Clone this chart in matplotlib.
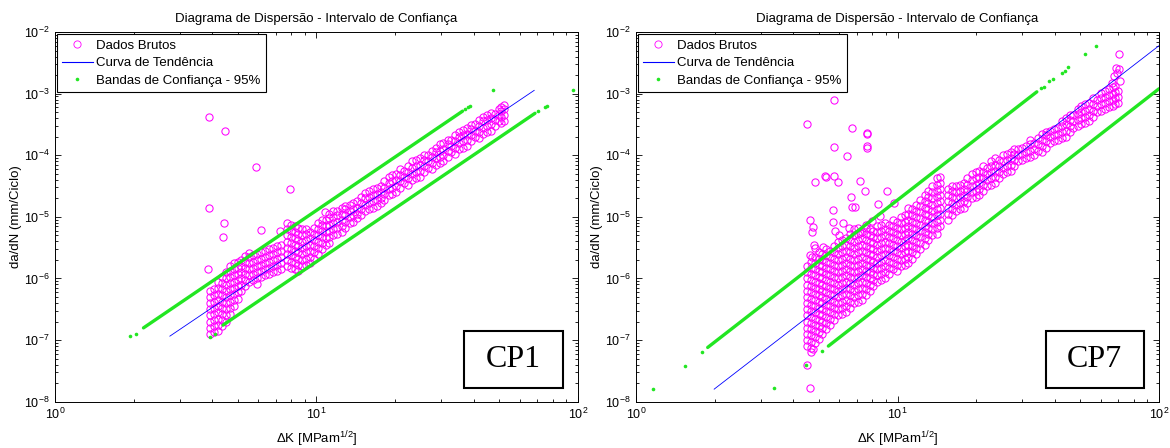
import numpy as np
import matplotlib
matplotlib.use("Agg")
import matplotlib.pyplot as plt
from matplotlib.lines import Line2D
from matplotlib.patches import Rectangle

plt.rcParams["font.family"] = ["Liberation Sans", "DejaVu Sans"]
plt.rcParams["mathtext.fontset"] = "custom"
plt.rcParams["mathtext.rm"] = "Liberation Sans"
plt.rcParams["mathtext.it"] = "Liberation Sans:italic"

MAGENTA = "#ff00ff"
BLUE = "#0000ff"
GREEN = "#22e622"

TITLE = "Diagrama de Dispersão - Intervalo de Confiança"
LABELS = ["Dados Brutos", "Curva de Tendência", "Bandas de Confiança - 95%"]

# ---------------- CP1 ----------------
# raw data read column by column: one dK per column, then the da/dN values in it
cp1_seg1_dk = [3.92, 4.20, 4.50, 4.82, 5.16, 5.53, 5.93, 6.35, 6.81, 7.29]
cp1_seg1_dadn = [
    [1.26e-7, 1.58e-7, 2.0e-7, 2.51e-7, 3.16e-7, 3.98e-7, 5.01e-7, 6.31e-7],
    [1.41e-7, 1.78e-7, 2.24e-7, 2.82e-7, 3.55e-7, 4.47e-7, 5.62e-7, 7.08e-7, 8.91e-7],
    [2.0e-7, 2.51e-7, 3.16e-7, 3.98e-7, 5.01e-7, 6.31e-7, 7.94e-7, 1.0e-6, 1.26e-6],
    [3.55e-7, 4.47e-7, 5.62e-7, 7.08e-7, 8.91e-7, 1.12e-6, 1.41e-6, 1.78e-6],
    [6.31e-7, 7.94e-7, 1.0e-6, 1.26e-6, 1.58e-6, 2.0e-6],
    [8.91e-7, 1.12e-6, 1.41e-6, 1.78e-6, 2.24e-6, 2.6e-6],
    [1.0e-6, 1.26e-6, 1.58e-6, 2.0e-6, 2.51e-6],
    [1.12e-6, 1.41e-6, 1.78e-6, 2.24e-6, 2.82e-6],
    [1.26e-6, 1.58e-6, 2.0e-6, 2.51e-6, 3.16e-6],
    [1.41e-6, 1.78e-6, 2.24e-6, 2.82e-6, 3.55e-6],
]
cp1_seg1b_dk = [4.06, 4.35, 4.66, 4.99, 5.34, 5.73, 6.14, 6.58, 7.05]
cp1_seg1b_dadn = [
    [1.33e-7, 1.68e-7, 2.11e-7, 2.66e-7, 3.35e-7, 4.22e-7, 5.31e-7, 6.68e-7],
    [1.68e-7, 2.11e-7, 2.66e-7, 3.35e-7, 4.22e-7, 5.31e-7, 6.68e-7, 8.41e-7, 1.06e-6],
    [2.66e-7, 3.35e-7, 4.22e-7, 5.31e-7, 6.68e-7, 8.41e-7, 1.06e-6, 1.33e-6, 1.58e-6],
    [4.73e-7, 5.96e-7, 7.50e-7, 9.44e-7, 1.19e-6, 1.50e-6, 1.88e-6],
    [7.5e-7, 9.44e-7, 1.19e-6, 1.50e-6, 1.88e-6, 2.3e-6],
    [9.44e-7, 1.19e-6, 1.50e-6, 1.88e-6, 2.37e-6],
    [1.06e-6, 1.33e-6, 1.68e-6, 2.11e-6, 2.66e-6],
    [1.19e-6, 1.50e-6, 1.88e-6, 2.37e-6, 2.99e-6],
    [1.33e-6, 1.68e-6, 2.11e-6, 2.66e-6, 3.35e-6],
]
cp1_seg2_dk = [7.69, 8.24, 8.83, 9.46, 10.1, 10.9, 11.6, 12.5, 13.4, 14.3,
               15.3, 16.4, 17.6, 18.9, 20.2, 21.7, 23.2, 24.9, 26.7, 28.6,
               30.6, 32.8, 35.2, 37.7, 40.4, 43.3, 46.4, 49.7, 52.0]
cp1_seg2_dadn = [
    [1.58e-6, 2.0e-6, 2.51e-6, 3.16e-6, 3.98e-6, 5.01e-6, 6.31e-6, 7.94e-6],
    [1.41e-6, 1.78e-6, 2.24e-6, 2.82e-6, 3.55e-6, 4.47e-6, 5.62e-6, 7.08e-6],
    [1.58e-6, 2.0e-6, 2.51e-6, 3.16e-6, 3.98e-6, 5.01e-6, 6.31e-6],
    [1.78e-6, 2.24e-6, 2.82e-6, 3.55e-6, 4.47e-6, 5.62e-6],
    [2.51e-6, 3.16e-6, 3.98e-6, 5.01e-6, 6.31e-6, 7.94e-6],
    [3.55e-6, 4.47e-6, 5.62e-6, 7.08e-6, 8.91e-6],
    [5.01e-6, 6.31e-6, 7.94e-6, 1.0e-5, 1.26e-5],
    [5.62e-6, 7.08e-6, 8.91e-6, 1.12e-5, 1.41e-5],
    [7.94e-6, 1.0e-5, 1.26e-5, 1.58e-5],
    [9.5e-6, 1.12e-5, 1.41e-5, 1.78e-5],
    [1.26e-5, 1.58e-5, 2.0e-5, 2.4e-5],
    [1.41e-5, 1.78e-5, 2.24e-5, 2.82e-5],
    [1.66e-5, 2.0e-5, 2.51e-5, 3.16e-5],
    [2.24e-5, 2.82e-5, 3.55e-5, 4.47e-5],
    [2.51e-5, 3.16e-5, 3.98e-5, 5.01e-5],
    [3.55e-5, 4.47e-5, 5.62e-5],
    [3.98e-5, 5.01e-5, 6.31e-5, 7.94e-5],
    [4.47e-5, 5.62e-5, 7.08e-5, 8.91e-5],
    [6.31e-5, 7.94e-5, 1.0e-4],
    [7.08e-5, 8.91e-5, 1.12e-4, 1.32e-4],
    [7.94e-5, 1.0e-4, 1.26e-4, 1.58e-4],
    [1.12e-4, 1.41e-4, 1.78e-4],
    [1.26e-4, 1.58e-4, 2.0e-4, 2.4e-4],
    [1.41e-4, 1.78e-4, 2.24e-4, 2.82e-4],
    [2.0e-4, 2.51e-4, 3.16e-4],
    [2.24e-4, 2.82e-4, 3.55e-4, 4.17e-4],
    [2.51e-4, 3.16e-4, 3.98e-4, 4.8e-4],
    [3.55e-4, 4.47e-4, 5.62e-4],
    [3.55e-4, 4.47e-4, 5.62e-4, 6.5e-4],
]
cp1_seg2b_dk = [7.96, 8.53, 9.14, 9.79, 10.5, 11.2, 12.0, 12.9, 13.8, 14.8,
                15.9, 17.0, 18.2, 19.5, 20.9, 22.4, 24.0, 25.7, 27.6, 29.6,
                31.7, 34.0, 36.4, 39.0, 41.8, 44.8, 48.0, 50.8]
cp1_seg2b_dadn = [
    [1.50e-6, 1.88e-6, 2.37e-6, 2.99e-6, 3.76e-6, 4.73e-6, 5.96e-6, 7.50e-6],
    [1.33e-6, 1.68e-6, 2.11e-6, 2.66e-6, 3.35e-6, 4.22e-6, 5.31e-6, 6.68e-6],
    [1.68e-6, 2.11e-6, 2.66e-6, 3.35e-6, 4.22e-6, 5.31e-6, 6.31e-6],
    [2.11e-6, 2.66e-6, 3.35e-6, 4.22e-6, 5.31e-6, 6.68e-6],
    [2.99e-6, 3.76e-6, 4.73e-6, 5.96e-6, 7.50e-6, 8.9e-6],
    [3.76e-6, 4.73e-6, 5.96e-6, 7.5e-6, 9.44e-6, 1.12e-5],
    [5.31e-6, 6.68e-6, 8.41e-6, 1.06e-5, 1.26e-5],
    [6.68e-6, 8.41e-6, 1.06e-5, 1.33e-5, 1.5e-5],
    [8.41e-6, 1.06e-5, 1.33e-5, 1.68e-5],
    [1.06e-5, 1.33e-5, 1.68e-5, 2.11e-5],
    [1.33e-5, 1.68e-5, 2.11e-5, 2.66e-5],
    [1.50e-5, 1.88e-5, 2.37e-5, 2.99e-5],
    [1.88e-5, 2.37e-5, 2.99e-5, 3.76e-5],
    [2.37e-5, 2.99e-5, 3.76e-5, 4.73e-5],
    [2.99e-5, 3.76e-5, 4.73e-5, 5.96e-5],
    [3.35e-5, 4.22e-5, 5.31e-5, 6.68e-5],
    [4.22e-5, 5.31e-5, 6.68e-5, 8.41e-5],
    [5.31e-5, 6.68e-5, 8.41e-5, 1.02e-4],
    [5.96e-5, 7.5e-5, 9.44e-5, 1.19e-4],
    [7.5e-5, 9.44e-5, 1.19e-4, 1.5e-4],
    [9.44e-5, 1.19e-4, 1.5e-4, 1.78e-4],
    [1.06e-4, 1.33e-4, 1.68e-4, 2.11e-4],
    [1.33e-4, 1.68e-4, 2.11e-4, 2.6e-4],
    [1.68e-4, 2.11e-4, 2.66e-4, 3.1e-4],
    [1.88e-4, 2.37e-4, 2.99e-4, 3.76e-4],
    [2.37e-4, 2.99e-4, 3.76e-4, 4.47e-4],
    [2.99e-4, 3.76e-4, 4.73e-4],
    [3.35e-4, 4.22e-4, 5.31e-4, 6.0e-4],
]
cp1_out_dk = [3.88, 4.46, 5.87, 7.95, 3.88, 4.43, 4.40, 6.14, 7.26, 10.8, 3.86, 5.9]
cp1_out_dadn = [4.2e-4, 2.5e-4, 6.5e-5, 2.85e-5, 1.38e-5, 7.9e-6, 4.8e-6, 6.2e-6,
                6.0e-6, 1.2e-5, 1.4e-6, 8.0e-7]

cp1_trend_dk = [2.75, 68.0]
cp1_trend_dadn = [1.16e-7, 1.13e-3]

cp1_up_dk = [2.18, 36.2]            # continuous run of band points
cp1_up_dadn = [1.58e-7, 5.2e-4]
cp1_lo_dk = [4.39, 68.5]
cp1_lo_dadn = [1.75e-7, 4.8e-4]
cp1_dots_dk = [1.94, 2.04, 36.9, 38.0, 38.5, 47.4, 95.7,
               3.90, 4.08, 70.5, 74.9, 76.0]
cp1_dots_dadn = [1.16e-7, 1.28e-7, 5.6e-4, 6.1e-4, 6.3e-4, 1.15e-3, 1.13e-3,
                 1.13e-7, 1.28e-7, 5.3e-4, 6.1e-4, 6.3e-4]

# ---------------- CP7 ----------------
cp7_blob_dk = [4.50, 4.82, 5.16, 5.53, 5.93, 6.35, 6.81, 7.29, 7.82, 8.37,
               8.97, 9.62, 10.3, 11.0, 11.8, 12.7, 13.6, 14.6]
cp7_blob_dadn = [
    [7.94e-8, 1.0e-7, 1.26e-7, 1.58e-7, 2.0e-7, 2.51e-7, 3.16e-7, 3.98e-7, 5.01e-7,
     6.31e-7, 7.94e-7, 1.0e-6, 1.26e-6, 1.58e-6],
    [8.91e-8, 1.12e-7, 1.41e-7, 1.78e-7, 2.24e-7, 2.82e-7, 3.55e-7, 4.47e-7, 5.62e-7,
     7.08e-7, 8.91e-7, 1.12e-6, 1.41e-6, 1.78e-6, 2.24e-6],
    [1.26e-7, 1.58e-7, 2.0e-7, 2.51e-7, 3.16e-7, 3.98e-7, 5.01e-7, 6.31e-7, 7.94e-7,
     1.0e-6, 1.26e-6, 1.58e-6, 2.0e-6, 2.51e-6],
    [1.78e-7, 2.24e-7, 2.82e-7, 3.55e-7, 4.47e-7, 5.62e-7, 7.08e-7, 8.91e-7, 1.12e-6,
     1.41e-6, 1.78e-6, 2.24e-6, 2.82e-6],
    [2.51e-7, 3.16e-7, 3.98e-7, 5.01e-7, 6.31e-7, 7.94e-7, 1.0e-6, 1.26e-6, 1.58e-6,
     2.0e-6, 2.51e-6, 3.16e-6, 3.98e-6],
    [2.82e-7, 3.55e-7, 4.47e-7, 5.62e-7, 7.08e-7, 8.91e-7, 1.12e-6, 1.41e-6, 1.78e-6,
     2.24e-6, 2.82e-6, 3.55e-6, 4.47e-6],
    [3.98e-7, 5.01e-7, 6.31e-7, 7.94e-7, 1.0e-6, 1.26e-6, 1.58e-6, 2.0e-6, 2.51e-6,
     3.16e-6, 3.98e-6, 5.01e-6, 6.31e-6],
    [4.47e-7, 5.62e-7, 7.08e-7, 8.91e-7, 1.12e-6, 1.41e-6, 1.78e-6, 2.24e-6, 2.82e-6,
     3.55e-6, 4.47e-6, 5.62e-6],
    [6.31e-7, 7.94e-7, 1.0e-6, 1.26e-6, 1.58e-6, 2.0e-6, 2.51e-6, 3.16e-6, 3.98e-6,
     5.01e-6, 6.31e-6],
    [8.91e-7, 1.12e-6, 1.41e-6, 1.78e-6, 2.24e-6, 2.82e-6, 3.55e-6, 4.47e-6, 5.62e-6,
     7.08e-6],
    [1.0e-6, 1.26e-6, 1.58e-6, 2.0e-6, 2.51e-6, 3.16e-6, 3.98e-6, 5.01e-6, 6.31e-6,
     7.94e-6],
    [1.41e-6, 1.78e-6, 2.24e-6, 2.82e-6, 3.55e-6, 4.47e-6, 5.62e-6, 7.08e-6, 8.91e-6],
    [1.58e-6, 2.0e-6, 2.51e-6, 3.16e-6, 3.98e-6, 5.01e-6, 6.31e-6, 7.94e-6, 1.0e-5],
    [1.78e-6, 2.24e-6, 2.82e-6, 3.55e-6, 4.47e-6, 5.62e-6, 7.08e-6, 8.91e-6, 1.12e-5,
     1.41e-5],
    [2.51e-6, 3.16e-6, 3.98e-6, 5.01e-6, 6.31e-6, 7.94e-6, 1.0e-5, 1.26e-5, 1.58e-5],
    [3.55e-6, 4.47e-6, 5.62e-6, 7.08e-6, 8.91e-6, 1.12e-5, 1.41e-5, 1.78e-5, 2.24e-5],
    [5.01e-6, 6.31e-6, 7.94e-6, 1.0e-5, 1.26e-5, 1.58e-5, 2.0e-5, 2.51e-5, 3.16e-5],
    [7.08e-6, 8.91e-6, 1.12e-5, 1.41e-5, 1.78e-5, 2.24e-5, 2.82e-5, 3.55e-5, 4.47e-5],
]
cp7_blobb_dk = [4.66, 4.99, 5.34, 5.73, 6.14, 6.58, 7.05, 7.55, 8.09, 8.67,
                9.29, 9.95, 10.7, 11.4, 12.2, 13.1, 14.1]
cp7_blobb_dadn = [
    [7.5e-8, 9.44e-8, 1.19e-7, 1.5e-7, 1.88e-7, 2.37e-7, 2.99e-7, 3.76e-7, 4.73e-7,
     5.96e-7, 7.5e-7, 9.44e-7, 1.19e-6, 1.5e-6, 1.88e-6],
    [1.06e-7, 1.33e-7, 1.68e-7, 2.11e-7, 2.66e-7, 3.35e-7, 4.22e-7, 5.31e-7, 6.68e-7,
     8.41e-7, 1.06e-6, 1.33e-6, 1.68e-6, 2.11e-6, 2.66e-6],
    [1.5e-7, 1.88e-7, 2.37e-7, 2.99e-7, 3.76e-7, 4.73e-7, 5.96e-7, 7.5e-7, 9.44e-7,
     1.19e-6, 1.5e-6, 1.88e-6, 2.37e-6, 2.99e-6],
    [2.11e-7, 2.66e-7, 3.35e-7, 4.22e-7, 5.31e-7, 6.68e-7, 8.41e-7, 1.06e-6, 1.33e-6,
     1.68e-6, 2.11e-6, 2.66e-6, 3.35e-6],
    [2.66e-7, 3.35e-7, 4.22e-7, 5.31e-7, 6.68e-7, 8.41e-7, 1.06e-6, 1.33e-6, 1.68e-6,
     2.11e-6, 2.66e-6, 3.35e-6, 4.22e-6],
    [3.35e-7, 4.22e-7, 5.31e-7, 6.68e-7, 8.41e-7, 1.06e-6, 1.33e-6, 1.68e-6, 2.11e-6,
     2.66e-6, 3.35e-6, 4.22e-6, 5.31e-6],
    [4.22e-7, 5.31e-7, 6.68e-7, 8.41e-7, 1.06e-6, 1.33e-6, 1.68e-6, 2.11e-6, 2.66e-6,
     3.35e-6, 4.22e-6, 5.31e-6, 6.68e-6],
    [5.31e-7, 6.68e-7, 8.41e-7, 1.06e-6, 1.33e-6, 1.68e-6, 2.11e-6, 2.66e-6, 3.35e-6,
     4.22e-6, 5.31e-6, 6.68e-6],
    [7.5e-7, 9.44e-7, 1.19e-6, 1.5e-6, 1.88e-6, 2.37e-6, 2.99e-6, 3.76e-6, 4.73e-6,
     5.96e-6],
    [9.44e-7, 1.19e-6, 1.5e-6, 1.88e-6, 2.37e-6, 2.99e-6, 3.76e-6, 4.73e-6, 5.96e-6,
     7.5e-6],
    [1.19e-6, 1.5e-6, 1.88e-6, 2.37e-6, 2.99e-6, 3.76e-6, 4.73e-6, 5.96e-6, 7.5e-6],
    [1.33e-6, 1.68e-6, 2.11e-6, 2.66e-6, 3.35e-6, 4.22e-6, 5.31e-6, 6.68e-6, 8.41e-6],
    [1.68e-6, 2.11e-6, 2.66e-6, 3.35e-6, 4.22e-6, 5.31e-6, 6.68e-6, 8.41e-6, 1.06e-5],
    [2.11e-6, 2.66e-6, 3.35e-6, 4.22e-6, 5.31e-6, 6.68e-6, 8.41e-6, 1.06e-5, 1.33e-5],
    [2.99e-6, 3.76e-6, 4.73e-6, 5.96e-6, 7.5e-6, 9.44e-6, 1.19e-5, 1.5e-5, 1.88e-5],
    [4.22e-6, 5.31e-6, 6.68e-6, 8.41e-6, 1.06e-5, 1.33e-5, 1.68e-5, 2.11e-5, 2.66e-5],
    [5.31e-6, 6.68e-6, 8.41e-6, 1.06e-5, 1.33e-5, 1.68e-5, 2.11e-5, 2.66e-5, 3.35e-5,
     4.22e-5],
]
cp7_band_dk = [15.6, 16.7, 17.9, 19.2, 20.5, 22.0, 23.6, 25.3, 27.1, 29.0, 31.1,
               33.3, 35.7, 38.3, 41.0, 44.0, 47.1, 50.5, 54.1, 58.0, 62.1, 66.5, 69.5]
cp7_band_dadn = [
    [8.91e-6, 1.12e-5, 1.41e-5, 1.78e-5, 2.24e-5, 2.82e-5],
    [1.26e-5, 1.58e-5, 2.0e-5, 2.51e-5, 3.16e-5],
    [1.41e-5, 1.78e-5, 2.24e-5, 2.82e-5, 3.55e-5],
    [2.0e-5, 2.51e-5, 3.16e-5, 3.98e-5, 5.01e-5],
    [2.24e-5, 2.82e-5, 3.55e-5, 4.47e-5, 5.62e-5],
    [3.16e-5, 3.98e-5, 5.01e-5, 6.31e-5],
    [3.55e-5, 4.47e-5, 5.62e-5, 7.08e-5, 8.91e-5],
    [5.01e-5, 6.31e-5, 7.94e-5, 1.0e-4],
    [5.62e-5, 7.08e-5, 8.91e-5, 1.12e-4],
    [7.94e-5, 1.0e-4, 1.26e-4],
    [8.91e-5, 1.12e-4, 1.41e-4],
    [1.0e-4, 1.26e-4, 1.58e-4],
    [1.12e-4, 1.41e-4, 1.78e-4, 2.24e-4],
    [1.58e-4, 2.0e-4, 2.51e-4],
    [1.78e-4, 2.24e-4, 2.82e-4],
    [2.0e-4, 2.51e-4, 3.16e-4, 3.98e-4],
    [2.82e-4, 3.55e-4, 4.47e-4],
    [3.16e-4, 3.98e-4, 5.01e-4, 6.31e-4],
    [3.55e-4, 4.47e-4, 5.62e-4, 7.08e-4],
    [5.01e-4, 6.31e-4, 7.94e-4],
    [5.62e-4, 7.08e-4, 8.91e-4, 1.12e-3],
    [6.31e-4, 7.94e-4, 1.0e-3, 1.26e-3],
    [7.08e-4, 8.91e-4, 1.12e-3],
]
cp7_bandb_dk = [16.1, 17.3, 18.5, 19.9, 21.3, 22.8, 24.4, 26.2, 28.0, 30.0, 32.2,
                34.5, 37.0, 39.6, 42.5, 45.5, 48.8, 52.2, 56.0, 60.0, 64.3, 68.0]
cp7_bandb_dadn = [
    [1.06e-5, 1.33e-5, 1.68e-5, 2.11e-5, 2.66e-5, 3.16e-5],
    [1.33e-5, 1.68e-5, 2.11e-5, 2.66e-5, 3.35e-5],
    [1.68e-5, 2.11e-5, 2.66e-5, 3.35e-5, 4.22e-5],
    [2.11e-5, 2.66e-5, 3.35e-5, 4.22e-5, 5.31e-5],
    [2.66e-5, 3.35e-5, 4.22e-5, 5.31e-5, 6.68e-5],
    [3.35e-5, 4.22e-5, 5.31e-5, 6.68e-5, 7.94e-5],
    [4.22e-5, 5.31e-5, 6.68e-5, 8.41e-5],
    [5.31e-5, 6.68e-5, 8.41e-5, 1.06e-4],
    [6.68e-5, 8.41e-5, 1.06e-4, 1.26e-4],
    [8.41e-5, 1.06e-4, 1.33e-4],
    [9.44e-5, 1.19e-4, 1.5e-4, 1.74e-4],
    [1.19e-4, 1.5e-4, 1.88e-4],
    [1.33e-4, 1.68e-4, 2.11e-4, 2.4e-4],
    [1.68e-4, 2.11e-4, 2.66e-4],
    [1.88e-4, 2.37e-4, 2.99e-4, 3.55e-4],
    [2.37e-4, 2.99e-4, 3.76e-4, 4.47e-4],
    [2.99e-4, 3.76e-4, 4.73e-4, 5.62e-4],
    [3.35e-4, 4.22e-4, 5.31e-4, 6.68e-4],
    [4.22e-4, 5.31e-4, 6.68e-4, 8.41e-4],
    [5.31e-4, 6.68e-4, 8.41e-4, 1.02e-3],
    [5.96e-4, 7.5e-4, 9.44e-4, 1.19e-3],
    [6.68e-4, 8.41e-4, 1.06e-3, 1.33e-3],
]
cp7_out_dk = [4.63, 4.76, 4.70, 4.63, 4.70, 4.80, 4.85, 5.20, 5.67, 5.76, 6.2, 6.0,
              6.5, 7.2, 7.6, 8.0, 8.6, 9.7, 6.62, 7.5, 9.12, 6.68, 6.9, 5.67, 8.45,
              4.84, 5.28, 5.33, 5.72, 5.9, 7.19, 5.72, 6.4, 7.65, 7.67, 4.52, 5.72,
              6.68, 7.67, 7.67, 4.5, 4.63, 4.65, 4.75,
              70.5, 68.5, 70.2, 69.0, 67.5, 70.8, 66.0]
cp7_out_dadn = [8.9e-6, 6.9e-6, 5.7e-6, 2.4e-6, 2.25e-6, 3.5e-6, 3.1e-6, 3.2e-6,
                8.4e-6, 5.9e-6, 8.0e-6, 5.0e-6, 6.5e-6, 5.4e-6, 7.5e-6, 8.5e-6,
                1.05e-5, 1.7e-5, 2.1e-5, 2.6e-5, 2.6e-5, 1.46e-5, 1.46e-5, 1.29e-5,
                1.6e-5, 3.7e-5, 4.6e-5, 4.4e-5, 4.6e-5, 3.7e-5, 3.8e-5, 1.35e-4,
                9.8e-5, 1.4e-4, 1.3e-4, 3.2e-4, 8.0e-4, 2.75e-4, 2.3e-4, 2.2e-4,
                3.9e-8, 1.64e-8, 6.5e-8, 7.2e-8,
                4.4e-3, 2.6e-3, 2.5e-3, 2.2e-3, 1.9e-3, 1.6e-3, 1.5e-3]

cp7_trend_dk = [1.99, 100.0]
cp7_trend_dadn = [1.6e-8, 6.0e-3]

cp7_up_dk = [1.88, 34.1]
cp7_up_dadn = [7.6e-8, 1.07e-3]
cp7_lo_dk = [5.44, 100.0]
cp7_lo_dadn = [8.0e-8, 1.2e-3]
cp7_dots_dk = [1.166, 1.545, 1.79, 35.5, 36.3, 37.8, 39.3, 42.5, 43.6, 45.0, 52.1, 57.4,
               3.36, 4.45, 5.13]
cp7_dots_dadn = [1.58e-8, 3.84e-8, 6.4e-8, 1.22e-3, 1.3e-3, 1.62e-3, 1.7e-3, 2.19e-3,
                 2.3e-3, 2.7e-3, 4.4e-3, 6.0e-3, 1.64e-8, 3.9e-8, 6.7e-8]


def flat(cols_x, cols_y):
    xs = np.repeat(cols_x, [len(c) for c in cols_y])
    ys = np.concatenate([np.asarray(c, float) for c in cols_y])
    return xs, ys


def panel(ax, raw, trend, up, lo, dots, tag):
    for xs, ys in raw:
        ax.plot(xs, ys, "o", ms=5.2, mfc="none", mec=MAGENTA, mew=0.75, zorder=2)
    ax.plot(*trend, "-", color=BLUE, lw=0.6, zorder=4)
    for seg in (up, lo):
        ax.plot(*seg, "-", color=GREEN, lw=2.4, solid_capstyle="round", zorder=3)
    ax.plot(*dots, "o", ms=2.6, mfc=GREEN, mec=GREEN, mew=0, zorder=3)

    ax.set_xscale("log")
    ax.set_yscale("log")
    ax.set_xlim(1, 100)
    ax.set_ylim(1e-8, 1e-2)
    ax.set_yticks([1e-8, 1e-7, 1e-6, 1e-5, 1e-4, 1e-3, 1e-2])
    ax.tick_params(which="both", direction="in", top=True, right=True,
                   labelsize=9, width=0.6, pad=4)
    ax.tick_params(which="major", length=4)
    ax.tick_params(which="minor", length=2.2)
    for s in ax.spines.values():
        s.set_linewidth(0.7)

    ax.set_title(TITLE, fontsize=9.5, pad=7)
    ax.set_xlabel(r"$\Delta$K [MPam$^{1/2}$]", fontsize=9.5, labelpad=5)
    ax.set_ylabel("da/dN (mm/Ciclo)", fontsize=9.5, labelpad=1)

    handles = [
        Line2D([], [], ls="none", marker="o", ms=5.2, mfc="none", mec=MAGENTA, mew=0.6),
        Line2D([], [], color=BLUE, lw=0.8),
        Line2D([], [], ls="none", marker="o", ms=2.6, mfc=GREEN, mec=GREEN, mew=0),
    ]
    leg = ax.legend(handles, LABELS, loc="upper left", fontsize=9.5, frameon=True,
                    fancybox=False, framealpha=1, edgecolor="black",
                    borderaxespad=0.15, borderpad=0.4, labelspacing=0.42,
                    handlelength=2.3, handletextpad=0.25)
    leg.get_frame().set_linewidth(0.8)

    ax.add_patch(Rectangle((0.783, 0.037), 0.188, 0.154, transform=ax.transAxes,
                           fill=False, ec="black", lw=1.5, zorder=6))
    ax.text(0.877, 0.114, tag, transform=ax.transAxes, ha="center", va="center",
            fontsize=23, family=["Liberation Serif", "DejaVu Serif"], zorder=6)


fig = plt.figure(figsize=(11.7, 4.48), dpi=100)
ax1 = fig.add_axes([0.0470, 0.1033, 0.4470, 0.8252])
ax2 = fig.add_axes([0.5436, 0.1033, 0.4470, 0.8252])

panel(ax1,
      [flat(cp1_seg1_dk, cp1_seg1_dadn), flat(cp1_seg1b_dk, cp1_seg1b_dadn),
       flat(cp1_seg2_dk, cp1_seg2_dadn), flat(cp1_seg2b_dk, cp1_seg2b_dadn),
       (cp1_out_dk, cp1_out_dadn)],
      (cp1_trend_dk, cp1_trend_dadn),
      (cp1_up_dk, cp1_up_dadn), (cp1_lo_dk, cp1_lo_dadn),
      (cp1_dots_dk, cp1_dots_dadn), "CP1")
panel(ax2,
      [flat(cp7_blob_dk, cp7_blob_dadn), flat(cp7_blobb_dk, cp7_blobb_dadn),
       flat(cp7_band_dk, cp7_band_dadn), flat(cp7_bandb_dk, cp7_bandb_dadn),
       (cp7_out_dk, cp7_out_dadn)],
      (cp7_trend_dk, cp7_trend_dadn),
      (cp7_up_dk, cp7_up_dadn), (cp7_lo_dk, cp7_lo_dadn),
      (cp7_dots_dk, cp7_dots_dadn), "CP7")

fig.savefig("out.png", dpi=100)
